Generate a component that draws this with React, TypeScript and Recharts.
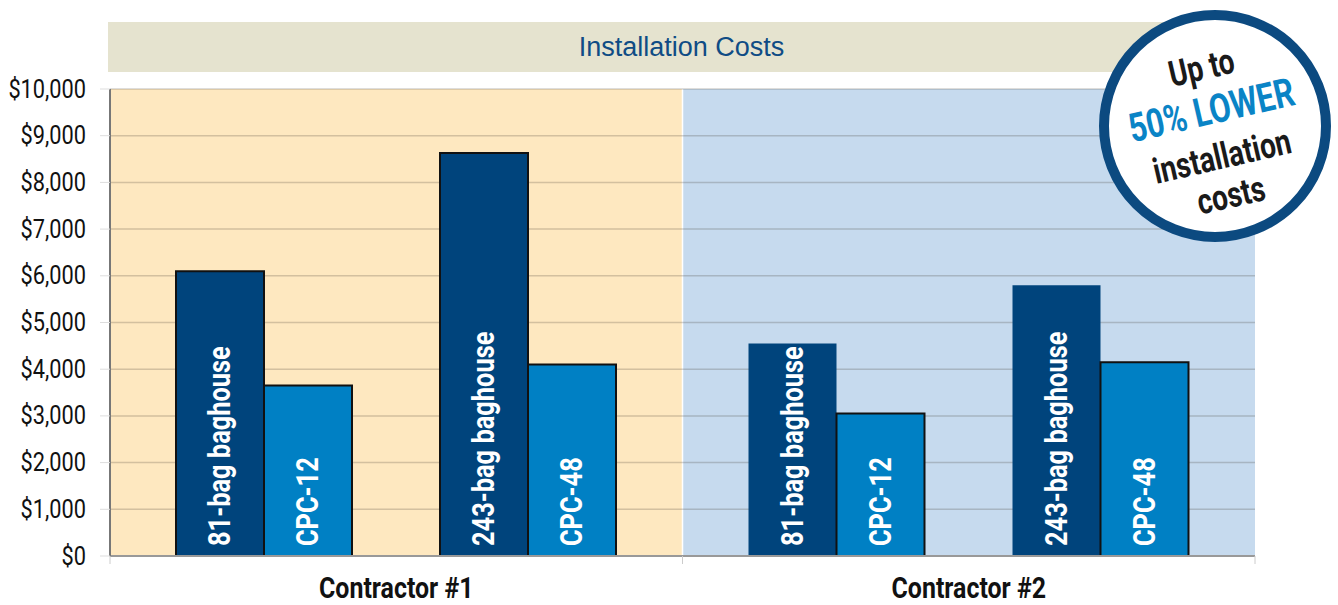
import { BarChart, Bar, XAxis, YAxis, CartesianGrid, LabelList, Cell } from "recharts";

const contractors = ["Contractor #1", "Contractor #2"];
const baghouse81 = [6100, 4550];
const cpc12 = [3650, 3050];
const baghouse243 = [8630, 5800];
const cpc48 = [4100, 4150];
const barNames = ["81-bag baghouse", "CPC-12", "243-bag baghouse", "CPC-48"];
const yTicks = [0, 1000, 2000, 3000, 4000, 5000, 6000, 7000, 8000, 9000, 10000];
const badgeLines = ["Up to", "50% LOWER", "installation", "costs"];

// no condensed face is installed, so Roboto gets squeezed sideways
const FONT = "Roboto, 'Liberation Sans', sans-serif";
const DARK = "#00447c";
const LIGHT = "#0080c4";

const data = contractors.map((name, i) => ({
  name,
  b81: baghouse81[i],
  c12: cpc12[i],
  gap: 0,
  b243: baghouse243[i],
  c48: cpc48[i],
}));

const barText = (text: string) => (props: any) => {
  const vb = props.viewBox ?? props;
  const { x, y, width, height } = vb;
  if (!width) return null;
  const cx = x + width / 2;
  const by = y + height - 10;
  return (
    <g transform={`translate(${cx},${by}) rotate(-90) scale(0.82,1)`}>
      <text x={0} y={0} textAnchor="start" dominantBaseline="central" fill="#fff" fontSize={31} fontWeight="bold" fontFamily={FONT}>
        {text}
      </text>
    </g>
  );
};

const MoneyTick = (props: any) => {
  const { x, y, payload } = props;
  return (
    <g transform={`translate(${x},${y}) scale(0.87,1)`}>
      <text x={0} y={0} textAnchor="end" dominantBaseline="central" fontSize={25} fontFamily={FONT} fill="#111">
        {"$" + Number(payload.value).toLocaleString("en-US")}
      </text>
    </g>
  );
};

const ContractorTick = (props: any) => {
  const { x, y, payload } = props;
  const half = payload.offset || 286;
  return (
    <g>
      <line x1={x - half} x2={x - half} y1={y} y2={y + 8} stroke="#ccc" />
      <line x1={x + half} x2={x + half} y1={y} y2={y + 8} stroke="#ccc" />
      <g transform={`translate(${x},${y + 42}) scale(0.86,1)`}>
        <text x={0} y={0} textAnchor="middle" fontSize={29} fontWeight="bold" fontFamily={FONT} fill="#111">
          {payload.value}
        </text>
      </g>
    </g>
  );
};

const Badge = () => {
  const cx = 1215;
  const cy = 126;
  const offsets = [-60, -16, 31, 71];
  return (
    <svg width={1338} height={605} style={{ position: "absolute", left: 0, top: 0, pointerEvents: "none" }}>
      <circle cx={cx} cy={cy} r={111} fill="#fff" stroke="#0c4a80" strokeWidth={10} />
      <g transform={`rotate(-13 ${cx} ${cy})`}>
        {badgeLines.map((t, i) => (
          <g key={t} transform={`translate(${cx},${cy + offsets[i]}) scale(0.78,1)`}>
            <text
              x={0}
              y={0}
              textAnchor="middle"
              dominantBaseline="central"
              fontSize={i === 1 ? 40 : 36}
              fontWeight="bold"
              fontFamily={FONT}
              fill={i === 1 ? "#0a84c6" : "#1a1a1a"}
            >
              {t}
            </text>
          </g>
        ))}
      </g>
    </svg>
  );
};

export default function App() {
  return (
    <div style={{ position: "absolute", left: 0, top: 0, width: 1338, height: 605, background: "#fff" }}>
      <div
        style={{
          position: "absolute",
          left: 108,
          top: 22,
          width: 1147,
          height: 50,
          background: "#e5e3cf",
          color: "#0f4c85",
          fontFamily: "'Liberation Sans', Arial, sans-serif",
          fontSize: 27,
          display: "flex",
          alignItems: "center",
          justifyContent: "center",
        }}
      >
        Installation Costs
      </div>
      <div style={{ position: "absolute", left: 0, top: 0 }}>
        <BarChart
          width={1338}
          height={605}
          data={data}
          margin={{ top: 89, right: 83, bottom: 0, left: 0 }}
          barCategoryGap={66}
          barGap={0}
        >
          <CartesianGrid
            horizontal={false}
            vertical
            stroke="#fff"
            strokeWidth={1.5}
            verticalFill={["#fee8c0", "#c6daee"]}
            fillOpacity={1}
            verticalCoordinatesGenerator={({ offset }: any) => [offset.left, offset.left + offset.width / 2]}
          />
          <CartesianGrid horizontal vertical={false} stroke="rgba(60,50,40,0.22)" strokeWidth={1.5} />
          <XAxis
            dataKey="name"
            axisLine={{ stroke: "#999", strokeWidth: 2 }}
            tickLine={false}
            tickSize={0}
            tickMargin={0}
            height={49}
            tick={<ContractorTick />}
          />
          <YAxis
            domain={[0, 10000]}
            ticks={yTicks}
            width={110}
            tickSize={10}
            tickMargin={14}
            axisLine={{ stroke: "#777", strokeWidth: 2 }}
            tickLine={{ stroke: "#ddd" }}
            tick={<MoneyTick />}
          />
          <Bar dataKey="b81" fill={DARK} isAnimationActive={false}>
            {data.map((_, i) => (
              <Cell key={`b81-${i}`} stroke={i === 0 ? "#111" : "none"} strokeWidth={2} />
            ))}
            <LabelList dataKey="b81" content={barText(barNames[0])} />
          </Bar>
          <Bar dataKey="c12" fill={LIGHT} stroke="#111" strokeWidth={2} isAnimationActive={false}>
            <LabelList dataKey="c12" content={barText(barNames[1])} />
          </Bar>
          <Bar dataKey="gap" fill="none" isAnimationActive={false} />
          <Bar dataKey="b243" fill={DARK} isAnimationActive={false}>
            {data.map((_, i) => (
              <Cell key={`b243-${i}`} stroke={i === 0 ? "#111" : "none"} strokeWidth={2} />
            ))}
            <LabelList dataKey="b243" content={barText(barNames[2])} />
          </Bar>
          <Bar dataKey="c48" fill={LIGHT} stroke="#111" strokeWidth={2} isAnimationActive={false}>
            <LabelList dataKey="c48" content={barText(barNames[3])} />
          </Bar>
        </BarChart>
      </div>
      <Badge />
    </div>
  );
}
